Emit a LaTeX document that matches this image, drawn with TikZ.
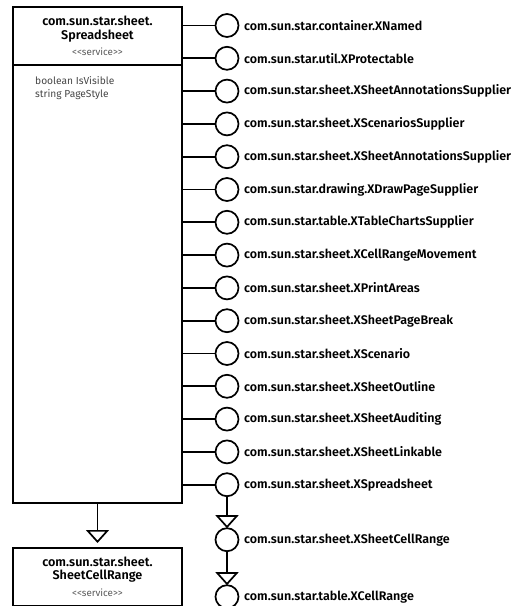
\documentclass[tikz,border=0pt]{standalone}
\usepackage{fontspec}
\setmainfont{Fira Sans}[BoldFont={Fira Sans SemiBold}]
\usetikzlibrary{arrows.meta, positioning}
\definecolor{colStereo}{RGB}{90,90,90}
\definecolor{colAttr}{RGB}{70,70,70}

\begin{document}
\begin{tikzpicture}[
  node distance=9.8pt and 5.5pt,
  svc/.style={rectangle, draw, line width=1.7pt, inner sep=0pt, outer sep=0pt,
              minimum width=169pt, anchor=north west, align=center,
              font=\fontsize{12.6}{13.5}\selectfont\bfseries},
  attr/.style={inner sep=0pt, anchor=north west, align=left, text=colAttr,
               font=\fontsize{10.2}{13}\selectfont},
  iface/.style={circle, draw, line width=1.7pt, minimum size=23pt,
                inner sep=0pt, outer sep=0pt},
  ifname/.style={inner sep=0pt, font=\fontsize{12.5}{13}\selectfont\bfseries},
  conn/.style={line width=1.7pt},
  realize/.style={line width=1.7pt, -{Triangle[open, width=23pt, length=13pt]}},
]
\useasboundingbox (0pt,0pt) rectangle (512pt,-606pt);

% Service box (left column)
\node[svc, minimum height=58pt] (sheethead) at (13pt,-7pt)
  {com.sun.star.sheet.\\Spreadsheet\\[3pt]{\fontsize{9.8}{10}\selectfont\mdseries\color{colStereo}<{}<service>{}>}};
\node[svc, minimum height=438pt, below=0pt of sheethead] (sheetbody) {};
\node[attr] (attrs) at (35pt,-76pt) {boolean IsVisible\\string PageStyle};

% Base service
\node[svc, minimum height=57.5pt] (cellrange) at (13pt,-548pt)
  {com.sun.star.sheet.\\SheetCellRange\\[3pt]{\fontsize{9.8}{10}\selectfont\mdseries\color{colStereo}<{}<service>{}>}};

% Interfaces (right column)
\node[iface] (named) at (227pt,-25.5pt) {};
\node[ifname, right=of named] (namedl) {com.sun.star.container.XNamed};
\node[iface, below=of named] (protect) {};
\node[ifname, right=of protect] (protectl) {com.sun.star.util.XProtectable};
\node[iface, below=of protect] (annot) {};
\node[ifname, right=of annot] (annotl) {com.sun.star.sheet.XSheetAnnotationsSupplier};
\node[iface, below=of annot] (scen) {};
\node[ifname, right=of scen] (scenl) {com.sun.star.sheet.XScenariosSupplier};
\node[iface, below=of scen] (annotb) {};
\node[ifname, right=of annotb] (annotbl) {com.sun.star.sheet.XSheetAnnotationsSupplier};
\node[iface, below=of annotb] (drawpage) {};
\node[ifname, right=of drawpage] (drawpagel) {com.sun.star.drawing.XDrawPageSupplier};
\node[iface, below=of drawpage] (charts) {};
\node[ifname, right=of charts] (chartsl) {com.sun.star.table.XTableChartsSupplier};
\node[iface, below=of charts] (movement) {};
\node[ifname, right=of movement] (movementl) {com.sun.star.sheet.XCellRangeMovement};
\node[iface, below=of movement] (printar) {};
\node[ifname, right=of printar] (printarl) {com.sun.star.sheet.XPrintAreas};
\node[iface, below=of printar] (pagebrk) {};
\node[ifname, right=of pagebrk] (pagebrkl) {com.sun.star.sheet.XSheetPageBreak};
\node[iface, below=of pagebrk] (scenario) {};
\node[ifname, right=of scenario] (scenariol) {com.sun.star.sheet.XScenario};
\node[iface, below=of scenario] (outline) {};
\node[ifname, right=of outline] (outlinel) {com.sun.star.sheet.XSheetOutline};
\node[iface, below=of outline] (auditing) {};
\node[ifname, right=of auditing] (auditingl) {com.sun.star.sheet.XSheetAuditing};
\node[iface, below=of auditing] (linkable) {};
\node[ifname, right=of linkable] (linkablel) {com.sun.star.sheet.XSheetLinkable};
\node[iface, below=of linkable] (sprd) {};
\node[ifname, right=of sprd] (sprdl) {com.sun.star.sheet.XSpreadsheet};
\node[iface, below=32pt of sprd] (sheetrng) {};
\node[ifname, right=of sheetrng] (sheetrngl) {com.sun.star.sheet.XSheetCellRange};
\node[iface, below=34pt of sheetrng] (cellrng) {};
\node[ifname, right=of cellrng] (cellrngl) {com.sun.star.table.XCellRange};

% Connectors: service exports
\foreach \i in {named, protect, annot, scen, annotb, drawpage, charts, movement,
                printar, pagebrk, scenario, outline, auditing, linkable, sprd}
  \draw[conn] (\i -| sheetbody.east) -- (\i);

% Connectors: inheritance
\draw[realize, shorten >=5pt] (sheetbody) -- (cellrange);
\draw[realize] (sprd) -- (sheetrng);
\draw[realize] (sheetrng) -- (cellrng);

\end{tikzpicture}
\end{document}
